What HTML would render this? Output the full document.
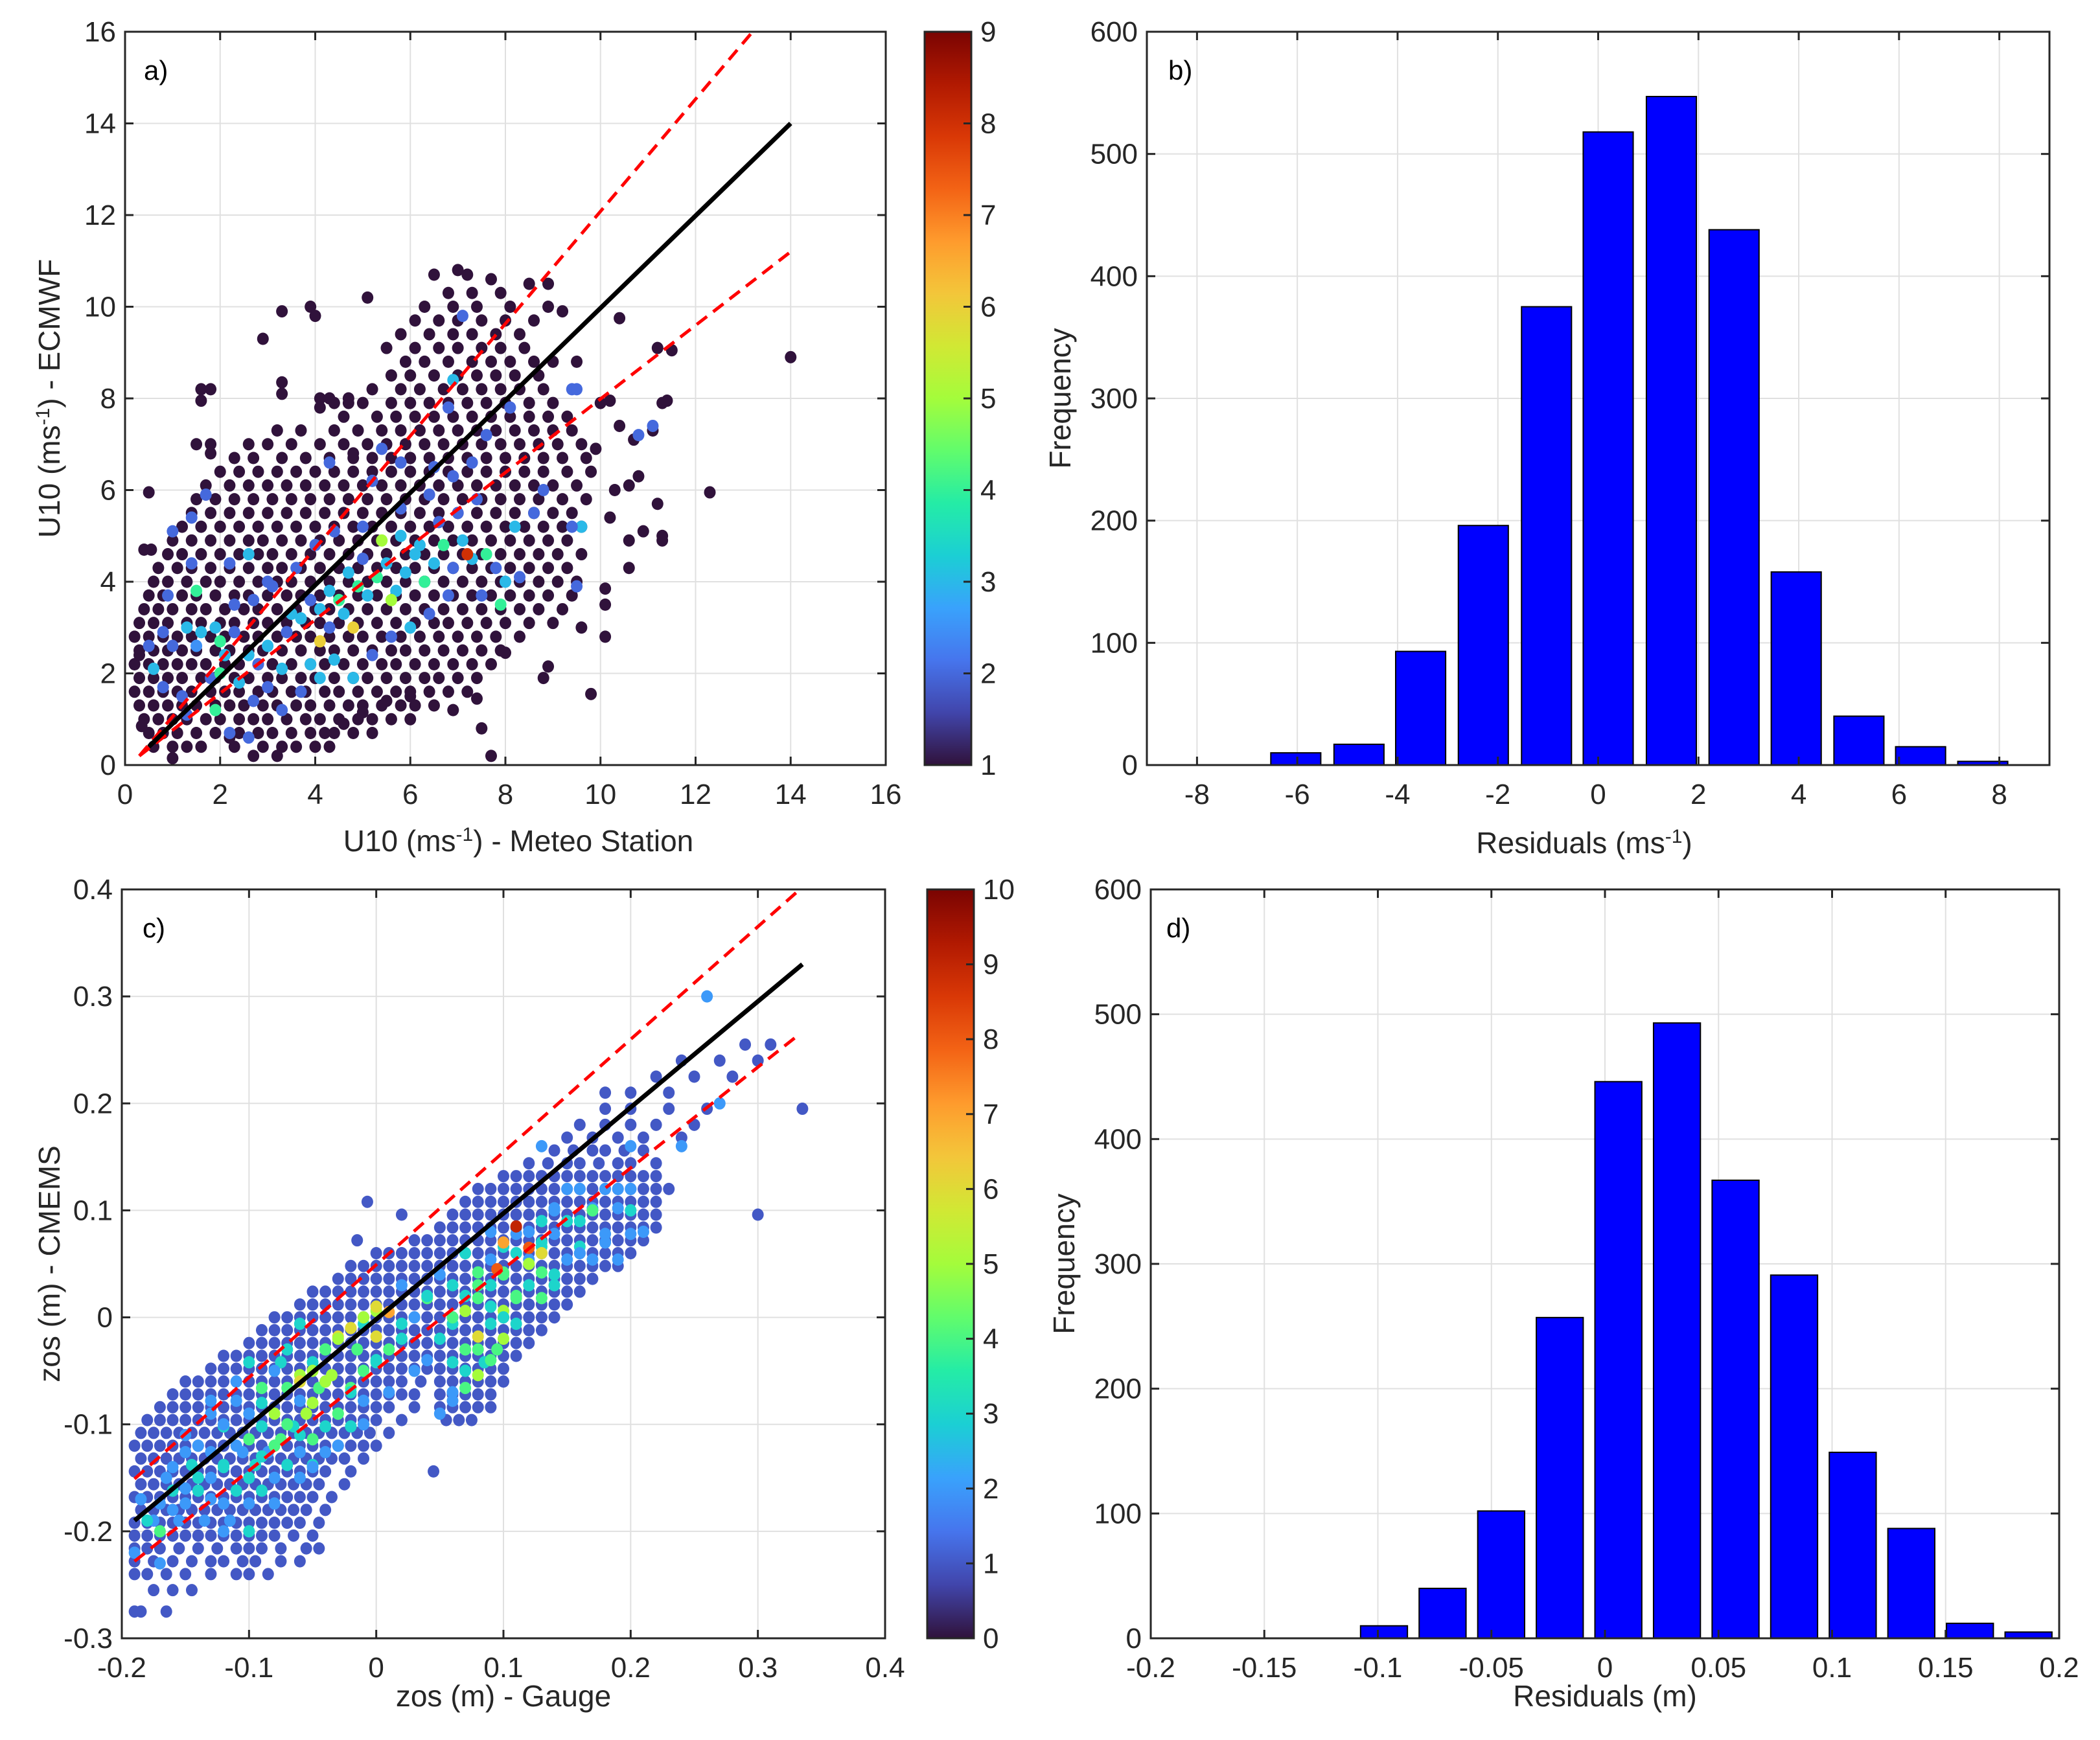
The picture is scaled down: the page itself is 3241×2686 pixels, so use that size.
<!DOCTYPE html>
<html><head><meta charset="utf-8"><style>
html,body{margin:0;padding:0;background:#fff;}
svg{display:block;font-family:"Liberation Sans",Arial,sans-serif;}
</style></head><body>
<svg id="fig" width="3241" height="2686" viewBox="0 0 3241 2686" xmlns="http://www.w3.org/2000/svg"></svg>
<script>
// ---------- DATA ----------
const aXTicks=[0,2,4,6,8,10,12,14,16];
const aYTicks=[0,2,4,6,8,10,12,14,16];
const aCbTicks=[1,2,3,4,5,6,7,8,9];
const bXTicks=[-8,-6,-4,-2,0,2,4,6,8];
const bYTicks=[0,100,200,300,400,500,600];
const cXTicks=[-0.2,-0.1,0,0.1,0.2,0.3,0.4];
const cYTicks=[-0.3,-0.2,-0.1,0,0.1,0.2,0.3,0.4];
const cCbTicks=[0,1,2,3,4,5,6,7,8,9,10];
const dXTicks=[-0.2,-0.15,-0.1,-0.05,0,0.05,0.1,0.15,0.2];
const dYTicks=[0,100,200,300,400,500,600];

const bCenters=[-6.03,-4.77,-3.54,-2.29,-1.03,0.2,1.46,2.71,3.95,5.2,6.43,7.67];
const bCounts=[10,17,93,196,375,518,547,438,158,40,15,3];
const dCenters=[-0.0973,-0.0715,-0.0457,-0.0199,0.0059,0.0317,0.0575,0.0833,0.1091,0.1349,0.1607,0.1865];
const dCounts=[10,40,102,257,446,493,367,291,149,88,12,5];

const aFitLine=[[0.5,0.4],[14,14]];
const aUpper=[[0.3,0.2],[13.2,16]];
const aLower=[[0.3,0.2],[14,11.2]];
const cFitLine=[[-0.19,-0.19],[0.335,0.33]];
const cUpper=[[-0.19,-0.151],[0.333,0.4]];
const cLower=[[-0.19,-0.228],[0.333,0.265]];

const aDarkRows=[
[0.4,[0.6,1.0,1.3,1.6,2.3,2.9,3.3,3.6,4.0,4.3]],
[0.7,[0.5,0.8,1.1,1.5,1.9,2.4,2.8,3.1,3.5,3.9,4.4,4.8,5.2]],
[1.0,[0.4,0.7,1.0,1.3,1.7,2.0,2.4,2.7,3.0,3.4,3.8,4.1,4.5,4.9,5.2,5.6,6.0]],
[1.3,[0.3,0.6,0.9,1.2,1.5,1.9,2.2,2.5,2.9,3.2,3.6,3.9,4.3,4.7,5.0,5.4,5.8,6.1,6.5]],
[1.6,[0.2,0.5,0.8,1.1,1.4,1.8,2.1,2.4,2.8,3.1,3.5,3.8,4.2,4.5,4.9,5.3,5.7,6.0,6.4,6.8,7.2]],
[1.9,[0.3,0.6,0.9,1.2,1.6,1.9,2.3,2.6,3.0,3.3,3.7,4.0,4.4,4.8,5.1,5.5,5.9,6.3,6.6,7.0,7.4]],
[2.2,[0.2,0.5,0.8,1.1,1.4,1.7,2.1,2.4,2.8,3.1,3.5,3.9,4.2,4.6,5.0,5.4,5.7,6.1,6.5,6.9,7.3,7.7]],
[2.5,[0.3,0.6,0.9,1.2,1.5,1.9,2.2,2.6,2.9,3.3,3.7,4.1,4.4,4.8,5.2,5.6,5.9,6.3,6.7,7.1,7.5,7.9]],
[2.8,[0.2,0.5,0.8,1.1,1.4,1.8,2.1,2.5,2.8,3.2,3.6,3.9,4.3,4.7,5.0,5.4,5.8,6.2,6.6,7.0,7.4,7.8,8.3]],
[3.1,[0.3,0.6,0.9,1.3,1.6,2.0,2.3,2.7,3.0,3.4,3.8,4.1,4.5,4.9,5.3,5.7,6.1,6.5,6.8,7.2,7.6,8.0,8.5,9.0]],
[3.4,[0.4,0.7,1.0,1.4,1.7,2.1,2.5,2.8,3.2,3.6,4.0,4.3,4.7,5.1,5.5,5.9,6.3,6.7,7.1,7.5,7.9,8.3,8.7,9.2]],
[3.7,[0.5,0.8,1.2,1.5,1.9,2.3,2.6,3.0,3.4,3.7,4.1,4.5,4.9,5.3,5.7,6.1,6.5,6.9,7.3,7.7,8.1,8.5,8.9,9.4]],
[4.0,[0.6,0.9,1.3,1.7,2.0,2.4,2.8,3.2,3.5,3.9,4.3,4.7,5.1,5.5,5.9,6.3,6.7,7.1,7.5,7.9,8.3,8.7,9.1,9.5]],
[4.3,[0.7,1.1,1.4,1.8,2.2,2.6,3.0,3.3,3.7,4.1,4.5,4.9,5.3,5.7,6.1,6.5,6.9,7.3,7.7,8.1,8.5,8.9,9.3]],
[4.6,[0.9,1.2,1.6,2.0,2.4,2.8,3.1,3.5,3.9,4.3,4.7,5.1,5.5,5.9,6.3,6.7,7.1,7.5,7.9,8.3,8.7,9.1,9.6]],
[4.9,[1.0,1.4,1.8,2.2,2.6,2.9,3.3,3.7,4.1,4.5,4.9,5.3,5.7,6.1,6.5,6.9,7.3,7.7,8.1,8.5,8.9,9.3]],
[5.2,[1.2,1.6,2.0,2.4,2.8,3.2,3.6,4.0,4.4,4.8,5.2,5.6,6.0,6.4,6.8,7.2,7.6,8.0,8.4,8.8,9.2,9.6]],
[5.5,[1.4,1.8,2.2,2.6,3.0,3.4,3.8,4.2,4.6,5.0,5.4,5.8,6.2,6.6,7.0,7.4,7.8,8.2,8.6,9.0,9.4]],
[5.8,[1.5,1.9,2.3,2.7,3.1,3.5,3.9,4.3,4.7,5.1,5.5,5.9,6.3,6.7,7.1,7.5,7.9,8.3,8.7,9.2,9.7]],
[6.1,[1.7,2.2,2.6,3.0,3.4,3.8,4.2,4.6,5.0,5.4,5.8,6.2,6.6,7.0,7.4,7.8,8.2,8.6,9.0,9.5]],
[6.4,[2.0,2.4,2.8,3.2,3.6,4.0,4.4,4.8,5.2,5.6,6.0,6.4,6.8,7.2,7.6,8.0,8.4,8.8,9.3,9.8]],
[6.7,[2.3,2.7,3.3,3.8,4.3,4.8,5.2,5.6,6.0,6.4,6.8,7.2,7.6,8.0,8.4,8.8,9.2,9.7]],
[7.0,[2.6,3.0,3.5,4.1,4.6,5.1,5.5,5.9,6.3,6.7,7.1,7.5,7.9,8.3,8.7,9.1,9.6]],
[7.3,[3.2,4.4,4.9,5.4,5.8,6.2,6.6,7.0,7.4,7.8,8.2,8.6,9.0,9.4]],
[7.6,[4.6,5.3,5.7,6.1,6.5,6.9,7.3,7.7,8.1,8.5,8.9,9.3]],
[7.9,[4.4,5.0,5.6,6.0,6.4,6.8,7.2,7.6,8.0,8.5,9.0]],
[8.2,[5.2,5.8,6.2,6.7,7.1,7.5,7.9,8.3,8.8]],
[8.5,[5.6,6.0,6.5,7.0,7.4,7.8,8.2,8.7]],
[8.8,[5.9,6.3,6.8,7.3,7.7,8.1,8.6,9.0]],
[9.1,[5.5,6.1,6.6,7.0,7.5,7.9,8.4]],
[9.4,[5.8,6.4,6.9,7.3,7.8,8.3]],
[9.7,[6.1,6.6,7.0,7.5,8.0,8.6]],
[10.0,[6.3,6.9,7.4,8.1,8.9]],
[10.3,[6.8,7.3,7.9]]
];
const aOutX=[14.0,12.3,11.5,11.2,11.3,11.1,11.2,11.3,11.3,10.6,10.6,10.4,10.4,10.1,10.1,10.1,9.6,9.8,8.9,8.8,8.0,7.7,7.5,7.4,6.9,10.8,10.9,10.6,10.3,10.2,9.9,10.0,10.2,11.4,10.7,9.5,9.2,8.5,8.9,7.7,7.0,7.2,6.5,5.1,3.3,3.9,4.0,2.9,3.3,3.3,1.6,1.8,1.6,1.5,1.8,1.8,0.5,0.4,0.55,0.2,0.3,0.35,1.0,2.7,3.2,2.2,4.2,4.6,5.0,5.5,6.0,3.7,4.1,4.3,4.7,4.1,4.7];
const aOutY=[8.9,5.95,9.05,9.1,7.9,7.3,5.7,4.9,5.0,4.3,4.9,7.4,9.75,3.5,3.85,2.8,3.0,1.55,2.15,1.9,2.45,0.2,0.8,1.45,1.2,6.3,5.1,6.1,6.0,5.4,6.9,7.9,7.95,7.95,7.1,8.8,9.9,10.5,10.5,10.6,10.8,10.7,10.7,10.2,9.9,10.0,9.8,9.3,8.35,8.1,8.2,8.2,7.95,7.0,7.0,6.8,5.95,4.7,4.7,2.2,2.4,0.85,0.15,0.2,0.2,0.6,0.7,0.9,1.15,1.4,1.5,7.3,8.0,8.0,8.0,7.8,7.9];
const aColX=[1.0,1.3,1.6,1.5,1.9,2.1,2.3,0.6,0.8,1.2,1.8,2.6,2.8,3.0,3.3,3.4,3.7,3.9,4.1,4.3,4.5,4.7,4.9,5.1,5.3,5.5,5.7,5.9,6.1,6.3,6.5,6.7,6.9,7.1,7.3,7.6,5.4,5.6,4.8,4.1,7.2,2.3,2.7,3.1,3.6,4.0,4.4,5.0,5.8,6.4,6.9,7.3,7.6,6.8,7.1,8.1,9.4,9.5,10.8,11.1,9.6,9.4,9.5,8.6,8.3,8.0,7.8,8.8,6.9,8.2,1.7,1.0,1.4,1.4,0.9,0.5,0.8,2.2,2.6,3.0,3.5,2.4,2.7,3.0,3.3,3.7,4.1,4.4,4.8,5.2,5.6,6.0,6.4,6.8,7.5,7.9,2.0,1.5,4.6,5.0,6.2,5.8,2.2,2.6,1.3,1.9,2.0,3.9,4.3,6.6,7.0,7.4,6.5,5.8,5.2,4.3,5.4,4.8];
const aColY=[2.6,3.0,2.9,2.6,3.0,2.4,2.9,2.1,1.7,1.5,1.9,2.4,2.2,2.6,2.1,2.9,3.2,3.6,3.4,3.8,3.6,4.2,3.9,3.7,4.1,4.4,3.8,4.2,4.6,4.0,4.4,4.8,4.3,4.9,4.5,4.6,4.9,3.6,3.0,2.7,4.6,3.5,3.6,3.9,4.3,4.8,5.1,5.2,5.6,5.9,6.3,6.6,7.2,7.8,9.8,7.8,8.2,8.2,7.2,7.4,5.2,5.2,3.9,5.5,4.1,4.0,4.3,6.0,8.4,5.2,5.9,5.1,4.4,5.4,3.7,2.6,2.9,4.4,4.6,4.0,3.3,1.8,1.4,1.7,1.2,1.6,1.9,2.3,1.9,2.4,2.8,3.0,3.3,3.7,3.7,3.5,2.0,3.8,3.3,4.5,4.8,5.0,0.7,0.6,1.1,1.2,2.7,2.2,3.0,5.3,5.5,5.8,6.5,6.6,6.2,6.6,6.9,6.8];
const aColV=[2,3,3,2.5,3,3,2,3,2,2,2,3,2,3,3,2,3,2,3,3,4,3,4,3,4,3,3,3,3,4,3,4,2,3,3,4,5,5,6,6,8,2,2,2,2,2,2,2,2,2,2,2,2,2,2,2,2,2,2,2,3,2,2,2,2,3,2,2,3,3,2,2,2,2,2,2,2,2,3,2,3,3,2,2,2,2,3,3,3,2,2,3,2,2,2,4,4,4,3,2,3,3,2,2,2,4,4,3,2,2,2,2,2,2,2,2,2];

const cRows=[
[-0.275,[-0.19,-0.185,-0.165]],
[-0.255,[-0.175,-0.16,-0.145]],
[-0.24,[-0.19,-0.18,-0.165,-0.15,-0.13,-0.11,-0.1,-0.085]],
[-0.228,[-0.19,-0.175,-0.16,-0.145,-0.13,-0.12,-0.105,-0.095,-0.075,-0.06]],
[-0.216,[-0.19,-0.18,-0.17,-0.155,-0.14,-0.125,-0.11,-0.1,-0.09,-0.075,-0.055,-0.045]],
[-0.204,[-0.19,-0.18,-0.17,-0.16,-0.15,-0.14,-0.13,-0.12,-0.11,-0.1,-0.09,-0.08,-0.065,-0.05]],
[-0.192,[-0.19,-0.18,-0.17,-0.16,-0.15,-0.14,-0.13,-0.12,-0.11,-0.1,-0.09,-0.08,-0.07,-0.06,-0.045]],
[-0.18,[-0.185,-0.175,-0.165,-0.155,-0.145,-0.135,-0.125,-0.115,-0.105,-0.095,-0.085,-0.075,-0.065,-0.055,-0.04]],
[-0.168,[-0.19,-0.18,-0.17,-0.16,-0.15,-0.14,-0.13,-0.12,-0.11,-0.1,-0.09,-0.08,-0.07,-0.06,-0.05,-0.035]],
[-0.156,[-0.185,-0.175,-0.165,-0.155,-0.145,-0.135,-0.125,-0.115,-0.105,-0.095,-0.085,-0.075,-0.065,-0.055,-0.045,-0.025]],
[-0.144,[-0.19,-0.18,-0.17,-0.16,-0.15,-0.14,-0.13,-0.12,-0.11,-0.1,-0.09,-0.08,-0.07,-0.06,-0.05,-0.04,-0.02,0.045]],
[-0.132,[-0.185,-0.175,-0.165,-0.155,-0.145,-0.135,-0.125,-0.115,-0.105,-0.095,-0.085,-0.075,-0.065,-0.055,-0.045,-0.035,-0.025,-0.01]],
[-0.12,[-0.19,-0.18,-0.17,-0.16,-0.15,-0.14,-0.13,-0.12,-0.11,-0.1,-0.09,-0.08,-0.07,-0.06,-0.05,-0.04,-0.03,-0.02,-0.01,0.0]],
[-0.108,[-0.185,-0.175,-0.165,-0.155,-0.145,-0.135,-0.125,-0.115,-0.105,-0.095,-0.085,-0.075,-0.065,-0.055,-0.045,-0.035,-0.025,-0.015,-0.005,0.01]],
[-0.096,[-0.18,-0.17,-0.16,-0.15,-0.14,-0.13,-0.12,-0.11,-0.1,-0.09,-0.08,-0.07,-0.06,-0.05,-0.04,-0.03,-0.02,-0.01,0.0,0.02,0.055,0.065,0.075]],
[-0.084,[-0.17,-0.16,-0.15,-0.14,-0.13,-0.12,-0.11,-0.1,-0.09,-0.08,-0.07,-0.06,-0.05,-0.04,-0.03,-0.02,-0.01,0.0,0.01,0.03,0.05,0.06,0.07,0.08,0.09]],
[-0.072,[-0.16,-0.15,-0.14,-0.13,-0.12,-0.11,-0.1,-0.09,-0.08,-0.07,-0.06,-0.05,-0.04,-0.03,-0.02,-0.01,0.0,0.01,0.02,0.03,0.05,0.06,0.07,0.08,0.09]],
[-0.06,[-0.15,-0.14,-0.13,-0.12,-0.11,-0.1,-0.09,-0.08,-0.07,-0.06,-0.05,-0.04,-0.03,-0.02,-0.01,0.0,0.01,0.02,0.035,0.05,0.06,0.07,0.08,0.09,0.1]],
[-0.048,[-0.13,-0.12,-0.11,-0.1,-0.09,-0.08,-0.07,-0.06,-0.05,-0.04,-0.03,-0.02,-0.01,0.0,0.01,0.02,0.03,0.04,0.05,0.06,0.07,0.08,0.09,0.1]],
[-0.036,[-0.12,-0.11,-0.1,-0.09,-0.08,-0.07,-0.06,-0.05,-0.04,-0.03,-0.02,-0.01,0.0,0.01,0.02,0.03,0.04,0.05,0.06,0.07,0.08,0.09,0.1,0.11]],
[-0.024,[-0.1,-0.09,-0.08,-0.07,-0.06,-0.05,-0.04,-0.03,-0.02,-0.01,0.0,0.01,0.02,0.03,0.04,0.05,0.06,0.07,0.08,0.09,0.1,0.11,0.12]],
[-0.012,[-0.09,-0.08,-0.07,-0.06,-0.05,-0.04,-0.03,-0.02,-0.01,0.0,0.01,0.02,0.03,0.04,0.05,0.06,0.07,0.08,0.09,0.1,0.11,0.12,0.13]],
[0.0,[-0.08,-0.07,-0.06,-0.05,-0.04,-0.03,-0.02,-0.01,0.0,0.01,0.02,0.03,0.04,0.05,0.06,0.07,0.08,0.09,0.1,0.11,0.12,0.13,0.14]],
[0.012,[-0.06,-0.05,-0.04,-0.03,-0.02,-0.01,0.0,0.01,0.02,0.03,0.04,0.05,0.06,0.07,0.08,0.09,0.1,0.11,0.12,0.13,0.14,0.15]],
[0.024,[-0.05,-0.04,-0.03,-0.02,-0.01,0.0,0.01,0.02,0.03,0.04,0.05,0.06,0.07,0.08,0.09,0.1,0.11,0.12,0.13,0.14,0.15,0.16]],
[0.036,[-0.03,-0.02,-0.01,0.0,0.01,0.02,0.03,0.04,0.05,0.06,0.07,0.08,0.09,0.1,0.11,0.12,0.13,0.14,0.15,0.16,0.17]],
[0.048,[-0.02,-0.01,0.0,0.01,0.02,0.03,0.04,0.05,0.06,0.07,0.08,0.09,0.1,0.11,0.12,0.13,0.14,0.15,0.16,0.17,0.18,0.19]],
[0.06,[0.0,0.01,0.02,0.03,0.04,0.05,0.06,0.07,0.08,0.09,0.1,0.11,0.12,0.13,0.14,0.15,0.16,0.17,0.18,0.19,0.2]],
[0.072,[-0.015,0.03,0.04,0.05,0.06,0.07,0.08,0.09,0.1,0.11,0.12,0.13,0.14,0.15,0.16,0.17,0.18,0.19,0.2,0.21]],
[0.084,[0.05,0.06,0.07,0.08,0.09,0.1,0.11,0.12,0.13,0.14,0.15,0.16,0.17,0.18,0.19,0.2,0.21,0.22]],
[0.096,[0.02,0.06,0.07,0.08,0.09,0.1,0.11,0.12,0.13,0.14,0.15,0.16,0.17,0.18,0.19,0.2,0.21,0.22,0.3]],
[0.108,[-0.007,0.07,0.08,0.09,0.1,0.11,0.12,0.13,0.14,0.15,0.16,0.17,0.18,0.19,0.2,0.21,0.22]],
[0.12,[0.08,0.09,0.1,0.11,0.12,0.13,0.14,0.15,0.16,0.17,0.18,0.19,0.2,0.21,0.22,0.23]],
[0.132,[0.1,0.11,0.12,0.13,0.14,0.15,0.16,0.17,0.18,0.19,0.2,0.21,0.22]],
[0.144,[0.12,0.135,0.15,0.16,0.175,0.19,0.2,0.22]],
[0.156,[0.14,0.155,0.17,0.18,0.195,0.21]],
[0.168,[0.15,0.17,0.19,0.21,0.24]],
[0.18,[0.16,0.18,0.2,0.22,0.25]],
[0.195,[0.18,0.2,0.23,0.26,0.335]],
[0.21,[0.18,0.2,0.23]],
[0.225,[0.22,0.25,0.28]],
[0.24,[0.24,0.27,0.3]],
[0.255,[0.29,0.31]]
];
const cColRows=[
[-0.19,2,[-0.175,-0.155,-0.135,-0.115]],
[-0.174,2,[-0.17,-0.15,-0.12,-0.1,-0.08]],
[-0.162,3,[-0.16,-0.14,-0.11,-0.09]],
[-0.15,2,[-0.165,-0.13,-0.1,-0.08,-0.06]],
[-0.138,3,[-0.145,-0.12,-0.095,-0.07,-0.05]],
[-0.126,2,[-0.15,-0.13,-0.105,-0.085,-0.06,-0.04]],
[-0.114,4,[-0.1,-0.075,-0.05]],
[-0.102,3,[-0.12,-0.09,-0.065,-0.04,-0.02]],
[-0.09,5,[-0.08,-0.055,-0.03]],
[-0.078,2,[-0.13,-0.11,-0.06,-0.01,0.06]],
[-0.066,4,[-0.09,-0.07,-0.045,-0.02,0.07]],
[-0.054,5,[-0.06,-0.035,0.08]],
[-0.042,3,[-0.1,-0.075,-0.05,0.0,0.06,0.085]],
[-0.03,4,[-0.04,-0.015,0.07,0.095]],
[-0.018,6,[-0.03,0.0,0.08]],
[-0.006,3,[-0.06,-0.01,0.02,0.06,0.09,0.11]],
[0.006,5,[0.0,0.07,0.1]],
[0.018,4,[0.04,0.08,0.11,0.13]],
[0.03,3,[0.06,0.09,0.12,0.14]],
[0.042,4,[0.08,0.1,0.13]],
[0.054,2,[0.09,0.12,0.15,0.17,0.19]],
[0.066,3,[0.1,0.13,0.16]],
[0.078,2,[0.11,0.14,0.18,0.2]],
[0.09,3,[0.13,0.16]],
[0.102,2,[0.14,0.17,0.19]],
[0.12,2,[0.15,0.18,0.2]]
];
const cColX=[-0.185,-0.18,-0.17,-0.16,-0.15,-0.14,-0.13,-0.12,-0.11,-0.1,-0.09,-0.08,-0.07,-0.06,-0.05,-0.04,-0.03,-0.02,-0.01,0,0.01,-0.06,-0.05,-0.04,-0.03,-0.02,-0.01,0.0,0.01,-0.09,-0.1,-0.12,-0.14,-0.16,-0.08,-0.07,-0.11,0.02,0.03,0.05,0.06,0.07,0.08,0.09,0.1,0.11,0.12,0.13,0.14,0.15,0.16,0.08,0.07,0.09,0.1,0.1,0.11,0.12,0.13,0.1,0.095,0.12,0.11,0.14,0.16,0.18,0.2,0.19,0.21,0.17,0.06,0.05,0.04,-0.05,-0.03,-0.01,0.01,0.03,-0.19,-0.17,0.26,0.27,0.2,0.24,0.13,0.09,0.07,0.05,0.04,0.02,-0.12,-0.1,-0.13,-0.15];
const cColY=[-0.17,-0.19,-0.2,-0.18,-0.16,-0.15,-0.17,-0.14,-0.12,-0.15,-0.13,-0.12,-0.1,-0.11,-0.08,-0.06,-0.09,-0.07,-0.05,-0.04,-0.03,-0.06,-0.05,-0.03,-0.02,-0.01,0,0.01,0.005,-0.08,-0.09,-0.1,-0.12,-0.14,-0.05,-0.03,-0.06,-0.02,0,-0.02,0,0.02,0.03,0.01,0.04,0.06,0.08,0.07,0.1,0.09,0.12,-0.03,-0.05,-0.04,-0.02,0.0,0.02,0.05,0.06,0.07,0.045,0.065,0.085,0.04,0.06,0.07,0.1,0.12,0.08,0.1,-0.07,-0.09,-0.04,-0.14,-0.12,-0.1,-0.07,-0.05,-0.22,-0.23,0.3,0.2,0.16,0.16,0.16,0.08,0.06,0.04,0.02,0.03,-0.2,-0.2,-0.09,-0.11];
const cColV=[2,3,4,2,2,3,2,3,2,3,3,4,4,3,5,5,4,3,4,3,4,6,5,4,5,6,5,6,7,3,2,2,2,2,2,3,2,3,2,3,4,3,4,3,4,3,2,3,2,3,2,4,3,4,5,3,4,5,6,7,8,8,9,3,2,2,3,2,2,4,2,2,2,2,2,2,2,2,2,2,2,2,2,2,2,2,3,2,3,2,2,3,2,2];

// ---------- RENDER ----------
const svg=document.getElementById('fig');
const NS='http://www.w3.org/2000/svg';
function mk(tag,attrs,parent){const e=document.createElementNS(NS,tag);for(const k in attrs)e.setAttribute(k,attrs[k]);(parent||svg).appendChild(e);return e;}
function lin(d0,d1,r0,r1){return v=>r0+(v-d0)/(d1-d0)*(r1-r0);}
const TURBO=['#30123b','#4145ab','#4675ed','#39a2fc','#1bcfd4','#24eca6','#61fc6c','#a4fc3b','#d1e834','#f3c63a','#fe9b2d','#f36315','#d93806','#b11901','#7a0402'];
function hx(h){return [parseInt(h.substr(1,2),16),parseInt(h.substr(3,2),16),parseInt(h.substr(5,2),16)];}
function turbo(t){if(!(t>=0))t=0;if(t>1)t=1;const p=t*(TURBO.length-1);const i=Math.min(TURBO.length-2,Math.floor(p));const f=p-i;
 const a=hx(TURBO[i]),b=hx(TURBO[i+1]);return 'rgb('+a.map((v,k)=>Math.round(v+(b[k]-v)*f)).join(',')+')';}

const AX='#262626', GRID='#e0e0e0', FS=44;

function axes(name,box,X,Y,xt,yt){
 const g=mk('g',{});
 
 
 xt.forEach(v=>{const l=mk('line',{x1:X(v),x2:X(v),y1:box.y0,y2:box.y1,stroke:GRID,'stroke-width':2},g);
  
  });
 yt.forEach(v=>{const l=mk('line',{x1:box.x0,x2:box.x1,y1:Y(v),y2:Y(v),stroke:GRID,'stroke-width':2},g);
  
  });
 return g;
}
function frame(name,box,X,Y,xt,yt){
 const g=mk('g',{});
 
 
 const r=mk('rect',{x:box.x0,y:box.y0,width:box.x1-box.x0,height:box.y1-box.y0,fill:'none',stroke:AX,'stroke-width':3},g);
 
 
 xt.forEach(v=>{
  const t1=mk('line',{x1:X(v),x2:X(v),y1:box.y1,y2:box.y1-13,stroke:AX,'stroke-width':3},g);
  
  
  const t2=mk('line',{x1:X(v),x2:X(v),y1:box.y0,y2:box.y0+13,stroke:AX,'stroke-width':3},g);
  
  
  const tx=mk('text',{x:X(v),y:box.y1+60,'font-size':FS,fill:AX,'text-anchor':'middle'},g);
  tx.textContent=String(v);
  
  
 });
 yt.forEach(v=>{
  const t1=mk('line',{x1:box.x0,x2:box.x0+13,y1:Y(v),y2:Y(v),stroke:AX,'stroke-width':3},g);
  
  
  const t2=mk('line',{x1:box.x1,x2:box.x1-13,y1:Y(v),y2:Y(v),stroke:AX,'stroke-width':3},g);
  
  
  const tx=mk('text',{x:box.x0-14,y:Y(v)+15,'font-size':FS,fill:AX,'text-anchor':'end'},g);
  tx.textContent=String(v);
  
  
 });
}
function dot(g,x,y,col,name){
 const c=mk('ellipse',{cx:x,cy:y,rx:9,ry:9.5,fill:col},g);
 
 
}
function segLine(g,X,Y,pts,col,w,dash,name){
 const l=mk('line',{x1:X(pts[0][0]),y1:Y(pts[0][1]),x2:X(pts[1][0]),y2:Y(pts[1][1]),stroke:col,'stroke-width':w},g);
 if(dash)l.setAttribute('stroke-dasharray',dash);
 
 
}
function colorbar(name,cb,ticks,vmin,vmax){
 const gid=name+'-grad';
 const defs=mk('defs',{});
 const lg=mk('linearGradient',{id:gid,x1:0,y1:1,x2:0,y2:0},defs);
 for(let i=0;i<=28;i++){mk('stop',{offset:(i/28),'stop-color':turbo(i/28)},lg);}
 const r=mk('rect',{x:cb.x0,y:cb.y0,width:cb.x1-cb.x0,height:cb.y1-cb.y0,fill:'url(#'+gid+')',stroke:AX,'stroke-width':3});
 
 
 const Y=lin(vmin,vmax,cb.y1,cb.y0);
 ticks.forEach(v=>{
  const t=mk('line',{x1:cb.x1,x2:cb.x1-12,y1:Y(v),y2:Y(v),stroke:AX,'stroke-width':3});
  
  
  const tx=mk('text',{x:cb.x1+14,y:Y(v)+15,'font-size':FS,fill:AX},null);
  tx.textContent=String(v);
  
  
 });
}
function label(txt,x,y,rot,name,sup,after){
 const t=mk('text',{x:x,y:y,'font-size':46,fill:AX,'text-anchor':'middle'});
 if(rot)t.setAttribute('transform','rotate(-90 '+x+' '+y+')');
 if(sup){
  const a=mk('tspan',{},t);a.textContent=txt;
  const s=mk('tspan',{'baseline-shift':'super','font-size':30},t);s.textContent=sup;
  const b=mk('tspan',{},t);b.textContent=after;
 } else t.textContent=txt;
 
 
}
function panelTag(txt,x,y,name){
 const t=mk('text',{x:x,y:y,'font-size':42,fill:'#000'});
 t.textContent=txt;
 
 
}

// ---- Panel a ----
const A={x0:193,x1:1367,y0:49,y1:1181};
const aX=lin(0,16,A.x0,A.x1), aY=lin(0,16,A.y1,A.y0);
axes('panel-a',A,aX,aY,aXTicks,aYTicks);
const aPts=mk('g',{});


const aBase=turbo(0);
aDarkRows.forEach(r=>r[1].forEach(x=>dot(aPts,aX(x),aY(r[0]),aBase,'scatter-point')));
aOutX.forEach((x,i)=>dot(aPts,aX(x),aY(aOutY[i]),aBase,'scatter-point'));
aColX.forEach((x,i)=>dot(aPts,aX(x),aY(aColY[i]),turbo((aColV[i]-1)/8),'scatter-point'));
segLine(svg,aX,aY,aUpper,'#ff0000',5,'20 12','panel-a-upper-bound');
segLine(svg,aX,aY,aLower,'#ff0000',5,'20 12','panel-a-lower-bound');
segLine(svg,aX,aY,aFitLine,'#000',7,null,'panel-a-fit-line');
frame('panel-a',A,aX,aY,aXTicks,aYTicks);
colorbar('panel-a-colorbar',{x0:1427,x1:1499,y0:49,y1:1181},aCbTicks,1,9);
label('U10 (ms',800,1314,false,'panel-a-x-label','-1',') - Meteo Station');
label('U10 (ms',92,615,true,'panel-a-y-label','-1',') - ECMWF');
panelTag('a)',222,123,'panel-a-tag');

// ---- Panel b ----
const B={x0:1770,x1:3163,y0:49,y1:1181};
const bX=lin(-9,9,B.x0,B.x1), bY=lin(0,600,B.y1,B.y0);
axes('panel-b',B,bX,bY,bXTicks,bYTicks);
const bw=(bCenters[bCenters.length-1]-bCenters[0])/(bCenters.length-1)*0.8;
bCenters.forEach((c,i)=>{
 const r=mk('rect',{x:bX(c-bw/2),y:bY(bCounts[i]),width:bX(c+bw/2)-bX(c-bw/2),height:bY(0)-bY(bCounts[i]),fill:'#0000ff',stroke:'#000','stroke-width':2});
 
 
});
frame('panel-b',B,bX,bY,bXTicks,bYTicks);
label('Frequency',1652,615,true,'panel-b-y-label');
label('Residuals (ms',2445,1317,false,'panel-b-x-label','-1',')');
panelTag('b)',1803,123,'panel-b-tag');

// ---- Panel c ----
const C={x0:188,x1:1366,y0:1373,y1:2529};
const cX=lin(-0.2,0.4,C.x0,C.x1), cY=lin(-0.3,0.4,C.y1,C.y0);
axes('panel-c',C,cX,cY,cXTicks,cYTicks);
const cPts=mk('g',{});


const cBase=turbo(0.1);
cRows.forEach(r=>r[1].forEach(x=>dot(cPts,cX(x),cY(r[0]),cBase,'scatter-point')));
cColRows.forEach(r=>r[2].forEach(x=>dot(cPts,cX(x),cY(r[0]),turbo(r[1]/10),'scatter-point')));
cColX.forEach((x,i)=>dot(cPts,cX(x),cY(cColY[i]),turbo(cColV[i]/10),'scatter-point'));
segLine(svg,cX,cY,cUpper,'#ff0000',5,'20 12','panel-c-upper-bound');
segLine(svg,cX,cY,cLower,'#ff0000',5,'20 12','panel-c-lower-bound');
segLine(svg,cX,cY,cFitLine,'#000',7,null,'panel-c-fit-line');
frame('panel-c',C,cX,cY,cXTicks,cYTicks);
colorbar('panel-c-colorbar',{x0:1431,x1:1503,y0:1373,y1:2529},cCbTicks,0,10);
label('zos (m) - Gauge',777,2634,false,'panel-c-x-label');
label('zos (m) - CMEMS',92,1951,true,'panel-c-y-label');
panelTag('c)',220,1447,'panel-c-tag');

// ---- Panel d ----
const D={x0:1776,x1:3178,y0:1373,y1:2529};
const dX=lin(-0.2,0.2,D.x0,D.x1), dY=lin(0,600,D.y1,D.y0);
axes('panel-d',D,dX,dY,dXTicks,dYTicks);
const dw=(dCenters[dCenters.length-1]-dCenters[0])/(dCenters.length-1)*0.8;
dCenters.forEach((c,i)=>{
 const r=mk('rect',{x:dX(c-dw/2),y:dY(dCounts[i]),width:dX(c+dw/2)-dX(c-dw/2),height:dY(0)-dY(dCounts[i]),fill:'#0000ff',stroke:'#000','stroke-width':2});
 
 
});
frame('panel-d',D,dX,dY,dXTicks,dYTicks);
label('Frequency',1658,1951,true,'panel-d-y-label');
label('Residuals (m)',2477,2634,false,'panel-d-x-label');
panelTag('d)',1800,1447,'panel-d-tag');
</script>
</body></html>
